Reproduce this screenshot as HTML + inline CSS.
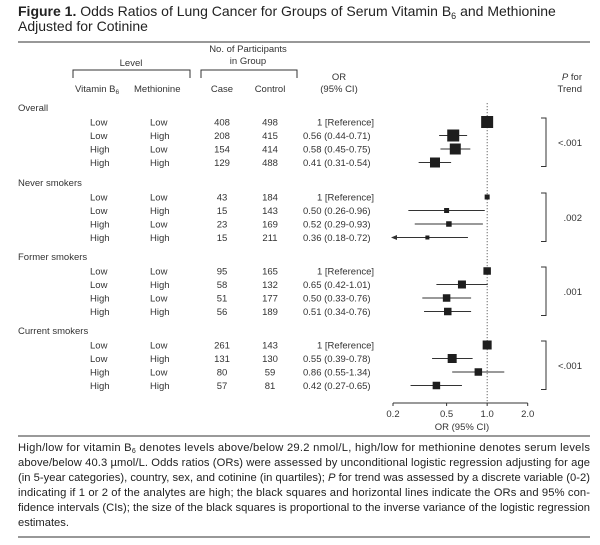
<!DOCTYPE html>
<html><head><meta charset="utf-8"><style>
body{margin:0;background:#fff;width:600px;height:540px;overflow:hidden;font-family:"Liberation Sans",sans-serif}
svg text{font-family:"Liberation Sans",sans-serif}
</style></head><body>
<svg id="fig" width="600" height="540" viewBox="0 0 600 540" xmlns="http://www.w3.org/2000/svg">
<text x="18" y="16" font-size="14" fill="#222"><tspan font-weight="bold">Figure 1.</tspan> Odds Ratios of Lung Cancer for Groups of Serum Vitamin B<tspan font-size="9" dy="3">6</tspan><tspan dy="-3"> and Methionine</tspan></text>
<text x="18" y="31" font-size="14" fill="#222">Adjusted for Cotinine</text>
<line x1="18" y1="42" x2="590" y2="42" stroke="#777" stroke-width="1.5"/>
<g font-size="9.5" fill="#333">
<text x="131" y="66" text-anchor="middle">Level</text>
<path d="M73,78 V70 H190 V78" fill="none" stroke="#333"/>
<text x="248" y="52" text-anchor="middle">No. of Participants</text>
<text x="248" y="64" text-anchor="middle">in Group</text>
<path d="M201,78 V70 H297 V78" fill="none" stroke="#333"/>
<text x="75" y="92">Vitamin B<tspan font-size="6.5" dy="2">6</tspan></text>
<text x="134" y="92">Methionine</text>
<text x="222" y="92" text-anchor="middle">Case</text>
<text x="270" y="92" text-anchor="middle">Control</text>
<text x="339" y="80" text-anchor="middle">OR</text>
<text x="339" y="92" text-anchor="middle">(95% CI)</text>
<text x="582" y="80" text-anchor="end"><tspan font-style="italic">P</tspan> for</text>
<text x="582" y="92" text-anchor="end">Trend</text>
</g>
<g id="rows"></g>
<g id="plot"></g>
<line x1="18" y1="436" x2="590" y2="436" stroke="#333" stroke-width="1"/>
<g font-size="11.2" fill="#222">
<text x="18" y="451" textLength="572" lengthAdjust="spacing">High/low for vitamin B<tspan font-size="7" dy="2">6</tspan><tspan dy="-2"> denotes levels above/below 29.2 nmol/L, high/low for methionine denotes serum levels</tspan></text>
<text x="18" y="466" textLength="572" lengthAdjust="spacing">above/below 40.3 µmol/L. Odds ratios (ORs) were assessed by unconditional logistic regression adjusting for age</text>
<text x="18" y="481" textLength="572" lengthAdjust="spacing">(in 5-year categories), country, sex, and cotinine (in quartiles); <tspan font-style="italic">P</tspan> for trend was assessed by a discrete variable (0-2)</text>
<text x="18" y="496" textLength="572" lengthAdjust="spacing">indicating if 1 or 2 of the analytes are high; the black squares and horizontal lines indicate the ORs and 95% con-</text>
<text x="18" y="511" textLength="572" lengthAdjust="spacing">fidence intervals (CIs); the size of the black squares is proportional to the inverse variance of the logistic regression</text>
<text x="18" y="526">estimates.</text>
</g>
<line x1="18" y1="537" x2="590" y2="537" stroke="#777" stroke-width="1.5"/>
</svg>
<script>
const groups = ["Overall","Never smokers","Former smokers","Current smokers"];
const pTrend = ["<.001",".002",".001","<.001"];
const vitB6 = ["Low","Low","High","High"];
const methionine = ["Low","High","Low","High"];
const cases = [[408,208,154,129],[43,15,23,15],[95,58,51,56],[261,131,80,57]];
const controls = [[498,415,414,488],[184,143,169,211],[165,132,177,189],[143,130,59,81]];
const orVals = [[1,0.56,0.58,0.41],[1,0.50,0.52,0.36],[1,0.65,0.50,0.51],[1,0.55,0.86,0.42]];
const ciLow = [[null,0.44,0.45,0.31],[null,0.26,0.29,0.18],[null,0.42,0.33,0.34],[null,0.39,0.55,0.27]];
const ciHigh = [[null,0.71,0.75,0.54],[null,0.96,0.93,0.72],[null,1.01,0.76,0.76],[null,0.78,1.34,0.65]];
const weight = [[12,12,11,10],[5,5,5.5,4],[7.5,8,7.5,7.5],[9,9,7.5,7.5]];
const ticks = [0.2,0.5,1.0,2.0];
const tickLabels = ["0.2","0.5","1.0","2.0"];

const NS="http://www.w3.org/2000/svg";
const X0=393, XS=134.7, XMIN=0.2;
const xScale = v => X0 + XS*Math.log10(v/XMIN);
const groupTop = [108,183,257,331];
const rowY = (g,r) => groupTop[g] + 14 + r*13.5;
function mk(tag, attrs, parent, txt){const e=document.createElementNS(NS,tag);for(const k in attrs)e.setAttribute(k,attrs[k]);if(txt!==undefined)e.textContent=txt;parent.appendChild(e);return e;}
const rows=document.getElementById('rows'), plot=document.getElementById('plot');
const axisY=403;
mk('line',{x1:xScale(1),y1:103,x2:xScale(1),y2:axisY,stroke:'#444','stroke-dasharray':'1.2,1.8','stroke-width':0.8},plot);
groups.forEach((gName,g)=>{
  const h=mk('text',{x:18,y:groupTop[g]+3,'font-size':9.5,fill:'#333'},rows,gName);
  
  
  for(let r=0;r<4;r++){
    const y=rowY(g,r)+3.5;
    const cells=[[90,vitB6[r],'start'],[150,methionine[r],'start'],[222,cases[g][r],'middle'],[270,controls[g][r],'middle']];
    cells.forEach(c=>{const t=mk('text',{x:c[0],y:y,'font-size':9.5,fill:'#333','text-anchor':c[2]},rows,String(c[1]));
      
      });
    const orTxt = r===0 ? "1 [Reference]" : orVals[g][r].toFixed(2)+" ("+ciLow[g][r].toFixed(2)+"-"+ciHigh[g][r].toFixed(2)+")";
    const ot=mk('text',{x:r===0?317:303,y:y,'font-size':9.5,fill:'#333'},rows,orTxt);
    
    
    const cy=rowY(g,r);
    if(ciLow[g][r]!==null){
      const lo=Math.max(ciLow[g][r],XMIN);
      const l=mk('line',{x1:xScale(lo),y1:cy,x2:xScale(ciHigh[g][r]),y2:cy,stroke:'#333','stroke-width':1},plot);
      
      
      if(ciLow[g][r]<0.22){const a=mk('path',{d:`M${xScale(lo)-2},${cy} l6,-2.5 v5 z`,fill:'#333'},plot);
        
        }
    }
    const s=weight[g][r];
    const sq=mk('rect',{x:xScale(orVals[g][r])-s/2,y:cy-s/2,width:s,height:s,fill:'#1e1e1e'},plot);
    
    
  }
  const y1=rowY(g,0)-4, y2=rowY(g,3)+4;
  const b=mk('path',{d:`M541,${y1} H546 V${y2} H541`,fill:'none',stroke:'#333'},plot);
  
  
  const pt=mk('text',{x:582,y:(y1+y2)/2+3.5,'font-size':9.5,fill:'#333','text-anchor':'end'},plot,pTrend[g]);
  
  
});
const ax=mk('line',{x1:xScale(ticks[0]),y1:axisY,x2:xScale(ticks[ticks.length-1]),y2:axisY,stroke:'#333'},plot);


ticks.forEach((t,i)=>{
  mk('line',{x1:xScale(t),y1:axisY,x2:xScale(t),y2:axisY+3,stroke:'#333'},plot);
  const tl=mk('text',{x:xScale(t),y:axisY+14,'font-size':9.5,fill:'#333','text-anchor':'middle'},plot,tickLabels[i]);
  
  
});
const at=mk('text',{x:xScale(0.65),y:axisY+27,'font-size':9.5,fill:'#333','text-anchor':'middle'},plot,"OR (95% CI)");


</script>
</body></html>
